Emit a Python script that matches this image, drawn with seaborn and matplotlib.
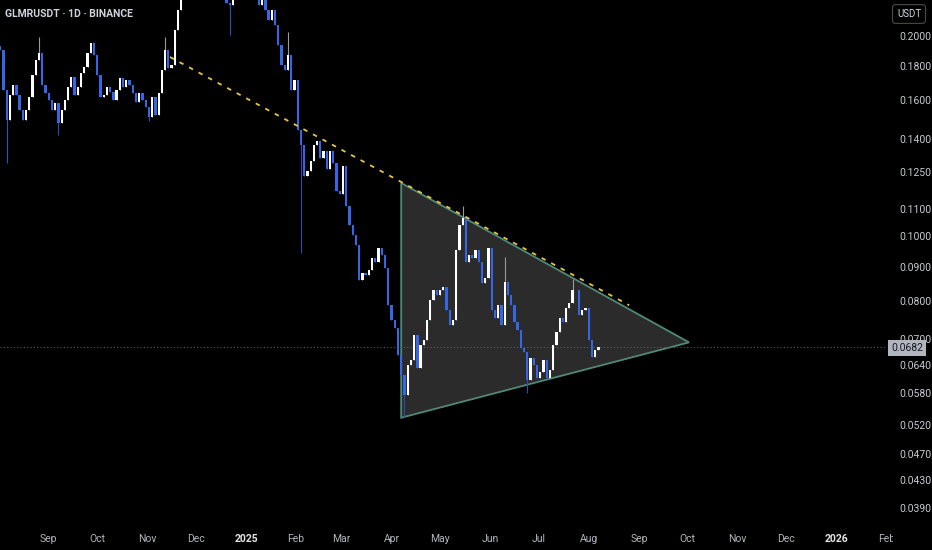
import matplotlib
matplotlib.use('Agg')
import matplotlib.pyplot as plt
import matplotlib.dates as mdates
from matplotlib.patches import Polygon, Rectangle
import seaborn as sns
import numpy as np
import pandas as pd

sns.set_theme(style='dark', rc={'axes.facecolor': '#000000', 'figure.facecolor': '#000000'})
plt.rcParams['font.family'] = ['Liberation Sans Narrow', 'Roboto', 'DejaVu Sans']

start_date = '2024-08-02'
first_open = 0.1930
closes = [
    0.1905, 0.1657, 0.1493, 0.1629, 0.1688, 0.1629, 0.1546, 0.1493, 0.1546, 0.1618,
    0.1747, 0.1840, 0.1886, 0.1688, 0.1640, 0.1601, 0.1546, 0.1584, 0.1478, 0.1546,
    0.1601, 0.1676, 0.1736, 0.1629, 0.1676, 0.1759, 0.1796, 0.1886, 0.1952, 0.1873,
    0.1747, 0.1618, 0.1629, 0.1676, 0.1646, 0.1601, 0.1657, 0.1730, 0.1676, 0.1716,
    0.1688, 0.1640, 0.1590, 0.1640, 0.1601, 0.1562, 0.1510, 0.1618, 0.1520, 0.1640,
    0.1777, 0.1905, 0.1790, 0.1809, 0.2042, 0.2188, 0.2428, 0.2558, 0.2648, 0.2789,
    0.2838, 0.2887, 0.2741, 0.2648, 0.2602, 0.2514, 0.2428, 0.2387, 0.2345, 0.2305,
    0.2242, 0.2228, 0.2305, 0.2428, 0.2558, 0.2648, 0.2694, 0.2602, 0.2387, 0.2305,
    0.2228, 0.2266, 0.2188, 0.2114, 0.2188, 0.2078, 0.1939, 0.1809, 0.1777, 0.1873,
    0.1657, 0.1716, 0.1442, 0.1369, 0.1233, 0.1254, 0.1299, 0.1369, 0.1392, 0.1309,
    0.1345, 0.1263, 0.1345, 0.1290, 0.1170, 0.1159, 0.1277, 0.1111, 0.1039, 0.1004,
    0.0970, 0.0859, 0.0880, 0.0874, 0.0889, 0.0927, 0.0914, 0.0960, 0.0937, 0.0895,
    0.0788, 0.0748, 0.0728, 0.0662, 0.0618, 0.0577, 0.0640, 0.0651, 0.0710, 0.0633,
    0.0686, 0.0698, 0.0748, 0.0802, 0.0830, 0.0816, 0.0830, 0.0838, 0.0774, 0.0735,
    0.0748, 0.0953, 0.1039, 0.1065, 0.0914, 0.0937, 0.0927, 0.0953, 0.0914, 0.0850,
    0.0865, 0.0960, 0.0774, 0.0753, 0.0788, 0.0735, 0.0853, 0.0816, 0.0788, 0.0743,
    0.0722, 0.0679, 0.0669, 0.0607, 0.0656, 0.0640, 0.0612, 0.0625, 0.0651, 0.0612,
    0.0629, 0.0686, 0.0717, 0.0753, 0.0743, 0.0780, 0.0794, 0.0830, 0.0830, 0.0761,
    0.0774, 0.0780, 0.0698, 0.0658, 0.0674, 0.0682,
]
# long wicks visible on the chart (candle index -> price)
wick_highs = {12: 0.1990, 51: 0.1993, 89: 0.2028, 143: 0.1110, 156: 0.0930, 177: 0.0863}
wick_lows = {2: 0.1288, 18: 0.1420, 46: 0.1490, 71: 0.2007, 93: 0.0944, 125: 0.0535, 163: 0.0580}

# drawings
triangle_dates = ['2025-04-07', '2025-04-07', '2025-10-02']
triangle_prices = [0.1202, 0.0533, 0.0692]
trend_dates = ['2024-11-15', '2025-08-26']
trend_prices = [0.1860, 0.0787]
last_price = 0.0682

y_ticks = [0.2000, 0.1800, 0.1600, 0.1400, 0.1250, 0.1100, 0.1000, 0.0900, 0.0800,
           0.0700, 0.0640, 0.0580, 0.0520, 0.0470, 0.0430, 0.0390]

df = pd.DataFrame({'date': pd.date_range(start_date, periods=len(closes), freq='2D'),
                   'close': closes})
df['open'] = [first_open] + closes[:-1]
df['high'] = df[['open', 'close']].max(axis=1)
df['low'] = df[['open', 'close']].min(axis=1)
for i, v in wick_highs.items():
    df.loc[i, 'high'] = v
for i, v in wick_lows.items():
    df.loc[i, 'low'] = v
df['x'] = mdates.date2num(df['date'])
up = df['close'] >= df['open']

fig = plt.figure(figsize=(9.32, 5.5), dpi=100)
ax = fig.add_axes([0, 28 / 550, 885 / 932, 522 / 550])
ax.set_facecolor('#000000')
ax.set_yscale('log')

# triangle pattern
tri_x = mdates.date2num(pd.to_datetime(triangle_dates))
ax.add_patch(Polygon(np.column_stack([tri_x, triangle_prices]), closed=True,
                     facecolor='#2b2b2b', edgecolor='#4f8a78', lw=1.3, zorder=1))

# last price line
ax.axhline(last_price, color='#5a5a5a', lw=0.8, ls=(0, (1, 2)), zorder=1.5)

# candles
u, d = df[up], df[~up]
ax.vlines(u['x'], u['low'], u['high'], color='#9a9a9a', lw=0.8, zorder=2)
ax.vlines(d['x'], d['low'], d['high'], color='#2a4fb8', lw=0.8, zorder=2)
ax.bar(u['x'], u['close'] - u['open'], bottom=u['open'], width=1.4,
       color='#ffffff', lw=0, zorder=3)
ax.bar(d['x'], d['open'] - d['close'], bottom=d['close'], width=1.4,
       color='#3566e6', lw=0, zorder=3)

# dashed trendline
trend = pd.DataFrame({'date': pd.to_datetime(trend_dates), 'price': trend_prices})
sns.lineplot(data=trend, x='date', y='price', ax=ax, color='#e8c547', lw=1.3,
             linestyle=(0, (2.5, 3.5)), zorder=4)
ax.set_xlabel('')
ax.set_ylabel('')

ax.set_xlim(mdates.date2num(pd.Timestamp('2024-08-01 21:00')),
            mdates.date2num(pd.Timestamp('2026-01-31 05:00')))
ax.set_ylim(0.03714, 0.2266)

ax.yaxis.tick_right()
ax.yaxis.set_minor_locator(matplotlib.ticker.NullLocator())
ax.set_yticks(y_ticks)
ax.set_yticklabels([f'{t:.4f}' for t in y_ticks])
ax.tick_params(axis='y', length=0, pad=10, labelsize=7.5, labelcolor='#c8cad0')

months = pd.date_range('2024-09-01', '2026-01-01', freq='MS')
ax.set_xticks(mdates.date2num(months))
ax.set_xticklabels([m.strftime('%Y') if m.month == 1 else m.strftime('%b') for m in months])
ax.tick_params(axis='x', length=0, pad=9, labelsize=7.5, labelcolor='#b2b5be')
for lbl in ax.get_xticklabels():
    if lbl.get_text().isdigit():
        lbl.set_color('#e6e6e6')
        lbl.set_fontweight('bold')
ax.text(mdates.date2num(pd.Timestamp('2026-02-01')), -0.032, 'Feb', transform=ax.get_xaxis_transform(),
        ha='center', va='center', fontsize=7.5, color='#b2b5be', clip_on=False)
fig.patches.append(Rectangle((893 / 932, 0), 39 / 932, 25 / 550, transform=fig.transFigure,
                             facecolor='#000000', edgecolor='none', zorder=10))

for s in ax.spines.values():
    s.set_visible(False)
ax.grid(False)

fig.text(5 / 932, 1 - 14 / 550, 'GLMRUSDT · 1D · BINANCE', ha='left', va='center',
         fontsize=7.5, color='#d1d4dc', fontweight='bold')
fig.text(909 / 932, 1 - 14 / 550, 'USDT', ha='center', va='center', fontsize=7,
         color='#d1d4dc', bbox=dict(boxstyle='round,pad=0.45,rounding_size=0.3',
                                    fc='#000000', ec='#4a4a4a', lw=0.8))
fig.text(907 / 932, 1 - 348 / 550, f'{last_price:.4f}', ha='center', va='center', fontsize=7.5,
         color='#131722', zorder=11,
         bbox=dict(boxstyle='square,pad=0.25', fc='#b2b5be', ec='none'))

fig.savefig('out.png', dpi=100, facecolor='#000000')
